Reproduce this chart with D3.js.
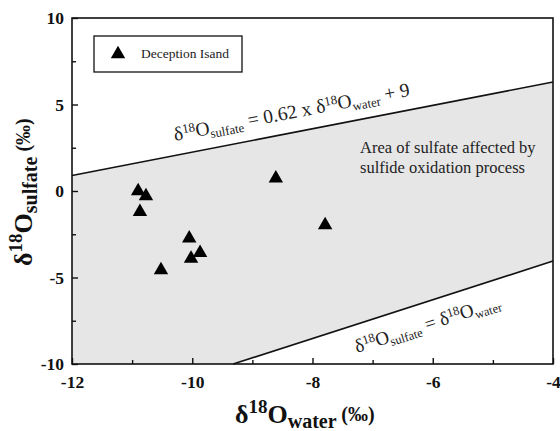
<!DOCTYPE html>
<html>
<head>
<meta charset="utf-8">
<script src="https://cdn.jsdelivr.net/npm/d3@7"></script>
<style>
  body { margin: 0; background: #fff; }
</style>
</head>
<body>
<svg width="560" height="431"></svg>
<script>
// Data
var waterX = [-10.90, -10.77, -10.87, -8.61, -7.79, -10.05, -9.87, -10.02, -10.52];
var sulfateY = [0.00, -0.30, -1.20, 0.73, -1.97, -2.73, -3.57, -3.90, -4.57];
var upperLine = [[-12, 0.9], [-4, 6.3]];
var lowerLine = [[-9.32, -10], [-4, -4.05]];
var xTicks = [-12, -10, -8, -6, -4];
var yTicks = [-10, -5, 0, 5, 10];
var xMinor = [-11, -9, -7, -5];
var yMinor = [-7.5, -2.5, 2.5, 7.5];

var svg = d3.select("svg");
var plotL = 72, plotR = 553, plotT = 18, plotB = 364;
var serif = "Liberation Serif";

var x = d3.scaleLinear().domain([-12, -4]).range([plotL, plotR]);
var y = d3.scaleLinear().domain([-10, 10]).range([plotB, plotT]);

// Shaded area between the two lines
var area = [
    upperLine[0], upperLine[1], lowerLine[1], lowerLine[0], [-12, -10]
];
svg.append("path")
    .attr("d", d3.line().x(function(d){ return x(d[0]); }).y(function(d){ return y(d[1]); })(area) + "Z")
    .attr("fill", "#e6e6e6");

// Lines
[upperLine, lowerLine].forEach(function(l) {
    svg.append("line")
        .attr("x1", x(l[0][0])).attr("y1", y(l[0][1]))
        .attr("x2", x(l[1][0])).attr("y2", y(l[1][1]))
        .attr("stroke", "#111")
        .attr("stroke-width", 1.6);
});

// Frame
svg.append("rect")
    .attr("x", plotL).attr("y", plotT)
    .attr("width", plotR - plotL).attr("height", plotB - plotT)
    .attr("fill", "none")
    .attr("stroke", "#111")
    .attr("stroke-width", 1.6);

// Axes (ticks inward)
var fmt = function(d){ return String(d); };
var xAxis = svg.append("g")
    .attr("transform", "translate(0," + plotB + ")")
    .call(d3.axisBottom(x).tickValues(xTicks).tickSize(-6).tickPadding(12).tickFormat(fmt));
svg.append("g")
    .attr("transform", "translate(0," + plotB + ")")
    .call(d3.axisBottom(x).tickValues(xMinor).tickSize(-4).tickFormat(""));
var yAxis = svg.append("g")
    .attr("transform", "translate(" + plotL + ",0)")
    .call(d3.axisLeft(y).tickValues(yTicks).tickSize(-6).tickPadding(10).tickFormat(fmt));
svg.append("g")
    .attr("transform", "translate(" + plotL + ",0)")
    .call(d3.axisLeft(y).tickValues(yMinor).tickSize(-4).tickFormat(""));

svg.selectAll(".domain").remove();
svg.selectAll("g").attr("font-family", serif);
svg.selectAll(".tick line").attr("stroke", "#111").attr("stroke-width", 1.4);
svg.selectAll(".tick text")
    .attr("fill", "#111")
    .attr("font-family", serif)
    .attr("font-size", 17.5)
    .attr("font-weight", "bold");
yAxis.selectAll(".tick text").attr("x", -8);

// Points
svg.append("g")
    .selectAll("path")
    .data(waterX)
    .enter().append("path")
    .attr("d", d3.symbol().type(d3.symbolTriangle).size(90))
    .attr("transform", function(d, i){ return "translate(" + x(d) + "," + y(sulfateY[i]) + ")"; })
    .attr("fill", "#000");

// Legend
svg.append("rect")
    .attr("x", 94).attr("y", 36)
    .attr("width", 148).attr("height", 36)
    .attr("fill", "#fff")
    .attr("stroke", "#111")
    .attr("stroke-width", 1.3);
svg.append("path")
    .attr("d", d3.symbol().type(d3.symbolTriangle).size(90))
    .attr("transform", "translate(118,54)")
    .attr("fill", "#000");
svg.append("text")
    .attr("x", 141).attr("y", 58)
    .attr("font-family", serif)
    .attr("font-size", 13.5)
    .attr("fill", "#222")
    .text("Deception Isand");

// Annotation
var note = svg.append("text")
    .attr("x", 360).attr("y", 153)
    .attr("font-family", serif)
    .attr("font-size", 16.5)
    .attr("fill", "#222");
note.append("tspan").attr("x", 360).attr("y", 153).text("Area of sulfate affected by");
note.append("tspan").attr("x", 360).attr("y", 173).text("sulfide oxidation process");

// Equation labels along the lines
function eqLabel(tx, ty, angle, size, parts) {
    var t = svg.append("text")
        .attr("transform", "translate(" + tx + "," + ty + ") rotate(" + angle + ")")
        .attr("font-family", serif)
        .attr("font-size", size)
        .attr("fill", "#222");
    parts.forEach(function(p) {
        var s = t.append("tspan").text(p[0]);
        if (p[1] === "sup") s.attr("dy", -6).attr("font-size", size * 0.66);
        if (p[1] === "sub") s.attr("dy", 4).attr("font-size", size * 0.66);
        if (p[2]) s.attr("dy", p[2]);
    });
}
eqLabel(175, 141, -10.9, 19.5, [
    ["δ"], ["18", "sup"], ["O", null, 6], ["sulfate", "sub"], [" = 0.62 x δ", null, -4],
    ["18", "sup"], ["O", null, 6], ["water", "sub"], [" + 9", null, -4]
]);
eqLabel(357, 353, -17.7, 19, [
    ["δ"], ["18", "sup"], ["O", null, 6], ["sulfate", "sub"], [" = δ", null, -4],
    ["18", "sup"], ["O", null, 6], ["water", "sub"]
]);

// Axis titles
function axisTitle(sel, sub) {
    sel.attr("font-family", serif)
        .attr("font-size", 26)
        .attr("font-weight", "bold")
        .attr("fill", "#111");
    sel.append("tspan").text("δ");
    sel.append("tspan").attr("dy", -10).attr("font-size", 19).text("18");
    sel.append("tspan").attr("dy", 10).text("O");
    sel.append("tspan").attr("dy", 5).attr("font-size", 20).text(sub);
    sel.append("tspan").attr("dy", -7).attr("font-size", 20).text(" (‰)");
}
axisTitle(svg.append("text").attr("x", 235).attr("y", 423), "water");
axisTitle(svg.append("text").attr("transform", "translate(32,266) rotate(-90)"), "sulfate");
</script>
</body>
</html>
